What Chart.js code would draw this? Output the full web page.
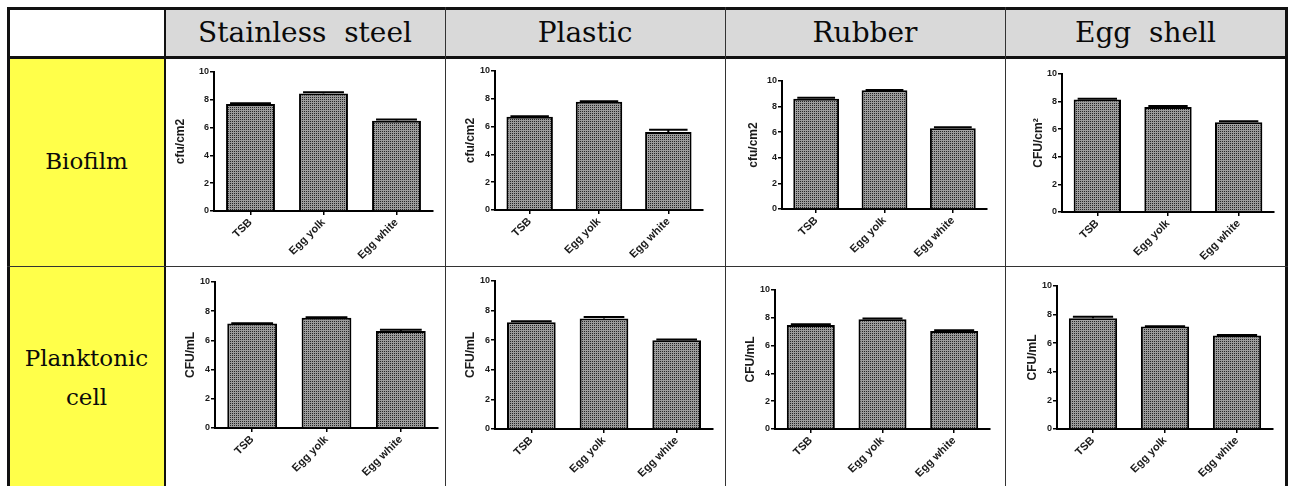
<!DOCTYPE html>
<html>
<head>
<meta charset="utf-8">
<script src="https://cdn.jsdelivr.net/npm/chart.js@4/dist/chart.umd.min.js"></script>
<style>
body{margin:0;background:#fff;width:1290px;height:486px;overflow:hidden;position:relative}
.cell{position:absolute;box-sizing:border-box;display:flex;align-items:center;justify-content:center;text-align:center;font-family:"DejaVu Serif",serif;color:#0a0a0a}
.head{background:#d9d9d9;font-size:28px;white-space:pre}
.side{background:#ffff4a;font-size:23px;line-height:39px;white-space:pre}
.line{position:absolute;background:#111}
.plot{position:absolute}
</style>
</head>
<body>
<div id="table"></div>
<script>
// media on the x axis, surfaces as columns, rows = growth mode
const media=['TSB','Egg yolk','Egg white'];
const surfaces=['Stainless  steel','Plastic','Rubber','Egg  shell'];
const rowNames=['Biofilm','Planktonic\ncell'];
const yTicks=[0,2,4,6,8,10];

// biofilm counts (log cfu/cm2)
const biofilmSteel=[7.7,8.45,6.5];
const biofilmPlastic=[6.7,7.78,5.62];
const biofilmRubber=[8.62,9.27,6.31];
const biofilmShell=[8.15,7.6,6.5];
const biofilmSteelErr=[0.06,0.1,0.08];
const biofilmPlasticErr=[0.05,0.05,0.15];
const biofilmRubberErr=[0.08,0.03,0.08];
const biofilmShellErr=[0.05,0.08,0.08];

// planktonic counts (log CFU/mL)
const planktonSteel=[7.15,7.55,6.65];
const planktonPlastic=[7.22,7.46,6.0];
const planktonRubber=[7.48,7.9,7.05];
const planktonShell=[7.75,7.16,6.53];
const planktonSteelErr=[0.03,0.03,0.08];
const planktonPlasticErr=[0.06,0.1,0.05];
const planktonRubberErr=[0.05,0.05,0.05];
const planktonShellErr=[0.1,0.03,0.05];

const units=[['cfu/cm2','cfu/cm2','cfu/cm2','CFU/cm\u00b2'],['CFU/mL','CFU/mL','CFU/mL','CFU/mL']];
const values=[[biofilmSteel,biofilmPlastic,biofilmRubber,biofilmShell],[planktonSteel,planktonPlastic,planktonRubber,planktonShell]];
const errors=[[biofilmSteelErr,biofilmPlasticErr,biofilmRubberErr,biofilmShellErr],[planktonSteelErr,planktonPlasticErr,planktonRubberErr,planktonShellErr]];

// table grid
const cols=[8,165,445,725,1005,1286];
const rows=[8,57,266,489];
// plot box of each panel in page px: left, top, right, bottom; gap = title to axis
const frames=[
 [[214,72,433,211],[495,71,703,210],[782,81,987,209],[1062,74,1274,212]],
 [[215,282,438,428],[495,281,713,429],[775,290,990,429],[1057,286,1273,429]]
];
const titleGap=[[34,25,29,24],[25,25,25,25]];

const table=document.getElementById('table');
function box(cls,l,t,w,h,text){
 const d=document.createElement('div');
 d.className=cls;
 Object.assign(d.style,{left:l+'px',top:t+'px',width:w+'px',height:h+'px'});
 if(text!==undefined)d.textContent=text;
 table.appendChild(d);
 return d;
}

// header and side cells
surfaces.forEach((s,i)=>box('cell head',cols[i+1],rows[0],cols[i+2]-cols[i+1],rows[1]-rows[0],s));
rowNames.forEach((n,i)=>box('cell side',cols[0],rows[i+1],cols[1]-cols[0],rows[i+2]-rows[i+1],n));

// dotted grey fill for bars
function dots(){
 const c=document.createElement('canvas');c.width=2;c.height=2;
 const g=c.getContext('2d');
 g.fillStyle='#9c9c9c';g.fillRect(0,0,2,2);
 g.fillStyle='#262626';g.fillRect(0,0,1,1);
 return g.createPattern(c,'repeat');
}

const errorBars={
 id:'errorBars',
 afterDatasetsDraw(chart){
  const ctx=chart.ctx,y=chart.scales.y,ds=chart.data.datasets[0];
  ctx.save();ctx.strokeStyle='#000';ctx.lineWidth=2;
  chart.getDatasetMeta(0).data.forEach((bar,i)=>{
   const top=y.getPixelForValue(ds.data[i]+ds.errors[i]);
   const half=bar.width/2-4;
   ctx.beginPath();
   ctx.moveTo(bar.x,bar.y);ctx.lineTo(bar.x,top);
   ctx.moveTo(bar.x-half,top);ctx.lineTo(bar.x+half,top);
   ctx.stroke();
  });
  ctx.restore();
 }
};

const yFont={family:'Liberation Sans',weight:'bold',size:9};
const xFont={family:'Liberation Sans',weight:'bold',size:11};

for(let r=0;r<2;r++){
 for(let c=0;c<4;c++){
  const left=cols[c+1]+1,right=cols[c+2]-1;
  const top=r===0?rows[1]+2:rows[2]+1,bottom=r===0?rows[2]-1:487;
  const [pl,pt,pr,pb]=frames[r][c];
  const wrap=box('plot',left,top,right-left,bottom-top);
  const cv=document.createElement('canvas');
  cv.width=right-left;cv.height=bottom-top;
  wrap.appendChild(cv);
  const yWidth=pl-left,xHeight=bottom-pb;
  new Chart(cv,{
   type:'bar',
   data:{labels:media,datasets:[{
    data:values[r][c],errors:errors[r][c],
    backgroundColor:dots(),borderColor:'#000',borderWidth:2,
    barPercentage:0.67,categoryPercentage:1
   }]},
   plugins:[errorBars],
   options:{
    responsive:false,animation:false,devicePixelRatio:1,
    layout:{padding:{top:pt-top,right:right-pr,left:0,bottom:0}},
    plugins:{legend:{display:false},tooltip:{enabled:false}},
    scales:{
     x:{
      offset:true,
      grid:{drawOnChartArea:false,offset:false,tickLength:4,color:'#000',lineWidth:1.5},
      border:{color:'#000',width:2},
      ticks:{minRotation:45,maxRotation:45,padding:1,color:'#1a1a1a',font:xFont},
      afterFit(s){s.height=xHeight;}
     },
     y:{
      min:0,max:10,
      afterBuildTicks(s){s.ticks=yTicks.map(v=>({value:v}));},
      grid:{drawOnChartArea:false,tickLength:4,color:'#000',lineWidth:1.5},
      border:{color:'#000',width:2},
      ticks:{padding:1,color:'#1a1a1a',font:yFont},
      title:{display:true,text:units[r][c],color:'#1a1a1a',
       font:{family:'Liberation Sans',weight:'bold',size:12},
       padding:{top:yWidth-titleGap[r][c]-7,bottom:0}},
      afterFit(s){s.width=yWidth;}
     }
    }
   }
  });
 }
}

// table rules
function rule(l,t,w,h,col){const d=box('line',l,t,w,h);if(col)d.style.background=col;}
rule(7,7,1281,2.5);
rule(7,7,2.5,490);
rule(1285,7,2.5,490);
rule(7,56,1281,2.5);
rule(164,7,2,490);
[445,725,1005].forEach(x=>rule(x-0.5,7,1.2,490,'#333'));
rule(7,265.5,1281,1.2,'#333');
</script>
</body>
</html>
